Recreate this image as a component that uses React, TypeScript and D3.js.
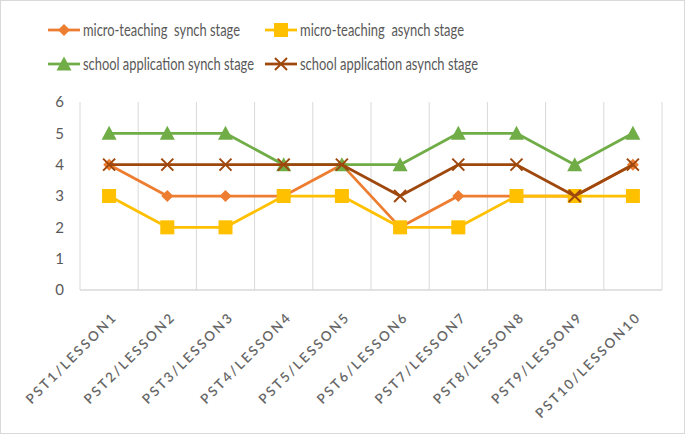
import React from "react";
import * as d3 from "d3";

const categories = ["PST1/LESSON1","PST2/LESSON2","PST3/LESSON3","PST4/LESSON4","PST5/LESSON5","PST6/LESSON6","PST7/LESSON7","PST8/LESSON8","PST9/LESSON9","PST10/LESSON10"];
const microSynch = [4,3,3,3,4,2,3,3,3,4];
const microAsynch = [3,2,2,3,3,2,2,3,3,3];
const schoolSynch = [5,5,5,4,4,4,5,5,4,5];
const schoolAsynch = [4,4,4,4,4,3,4,4,3,4];
const yTicks = [0,1,2,3,4,5,6];
const seriesNames = ["micro-teaching  synch stage","micro-teaching  asynch stage","school application synch stage","school application asynch stage"];

const W = 685, H = 435;
const FONT = "Lato, 'Open Sans', sans-serif";
const TXT = "#595959";

const series = [
  { name: seriesNames[0], values: microSynch, color: "#ED7D31", marker: "diamond" },
  { name: seriesNames[1], values: microAsynch, color: "#FFC000", marker: "square" },
  { name: seriesNames[2], values: schoolSynch, color: "#70AD47", marker: "triangle" },
  { name: seriesNames[3], values: schoolAsynch, color: "#9E480E", marker: "x" },
];

function Marker({ type, x, y, color }: { type: string; x: number; y: number; color: string }) {
  if (type === "diamond") {
    const r = 6;
    return <path d={`M${x},${y - r}L${x + r},${y}L${x},${y + r}L${x - r},${y}Z`} fill={color} />;
  }
  if (type === "square") {
    const r = 7;
    return <rect x={x - r} y={y - r} width={2 * r} height={2 * r} fill={color} />;
  }
  if (type === "triangle") {
    const r = 7.5;
    return <path d={`M${x},${y - r}L${x + r},${y + r - 1}L${x - r},${y + r - 1}Z`} fill={color} />;
  }
  const r = 6;
  return (
    <path d={`M${x - r},${y - r}L${x + r},${y + r}M${x + r},${y - r}L${x - r},${y + r}`} stroke={color} strokeWidth={2} fill="none" />
  );
}

export default function App() {
  const x = d3.scaleBand<string>().domain(categories).range([80, 662]);
  const y = d3.scaleLinear().domain([0, 6]).range([290, 102]);
  const line = d3.line<number>().x((_, i) => (x(categories[i]) as number) + x.bandwidth() / 2).y((v) => y(v));
  const legendPos = [
    { lx: 48, ly: 30, tw: 157 },
    { lx: 265, ly: 30, tw: 164 },
    { lx: 48, ly: 64, tw: 171 },
    { lx: 265, ly: 64, tw: 178 },
  ];
  const gridXs = categories.map((c) => x(c) as number).concat([662]);
  return (
    <svg width={W} height={H} style={{ position: "absolute", left: 0, top: 0, background: "#fff" }}>
      <rect x={0.5} y={0.5} width={W - 1} height={H - 2} fill="#fff" stroke="#d9d9d9" strokeWidth={1} />
      {gridXs.map((gx, i) => (
        <line key={i} x1={gx} x2={gx} y1={y(6)} y2={y(0)} stroke="#d9d9d9" strokeWidth={1} />
      ))}
      <line x1={80} x2={662} y1={y(0)} y2={y(0)} stroke="#d9d9d9" strokeWidth={1.5} />
      {yTicks.map((t) => (
        <text key={t} x={64} y={y(t)} dy="0.36em" textAnchor="end" fontFamily={FONT} fontSize={15} fill={TXT}>{t}</text>
      ))}
      {categories.map((c) => {
        const cx = (x(c) as number) + x.bandwidth() / 2;
        return (
          <text key={c} transform={`translate(${cx + 9},${318}) rotate(-45)`} textAnchor="end" fontFamily={FONT} fontSize={13.5} fontWeight={600} letterSpacing={2.2} fill="#666">{c}</text>
        );
      })}
      {series.map((s) => (
        <g key={s.name}>
          <path d={line(s.values) as string} fill="none" stroke={s.color} strokeWidth={2.75} strokeLinejoin="round" />
          {s.values.map((v, i) => (
            <Marker key={i} type={s.marker} x={(x(categories[i]) as number) + x.bandwidth() / 2} y={y(v)} color={s.color} />
          ))}
        </g>
      ))}
      {series.map((s, i) => {
        const p = legendPos[i];
        return (
          <g key={"l" + i}>
            <line x1={p.lx} x2={p.lx + 32} y1={p.ly} y2={p.ly} stroke={s.color} strokeWidth={2.75} />
            <Marker type={s.marker} x={p.lx + 16} y={p.ly} color={s.color} />
            <text x={p.lx + 35} y={p.ly} dy="0.35em" fontFamily={FONT} fontSize={16.5} fill={TXT} textLength={p.tw} lengthAdjust="spacingAndGlyphs" style={{ whiteSpace: "pre" }}>{s.name}</text>
          </g>
        );
      })}
    </svg>
  );
}
